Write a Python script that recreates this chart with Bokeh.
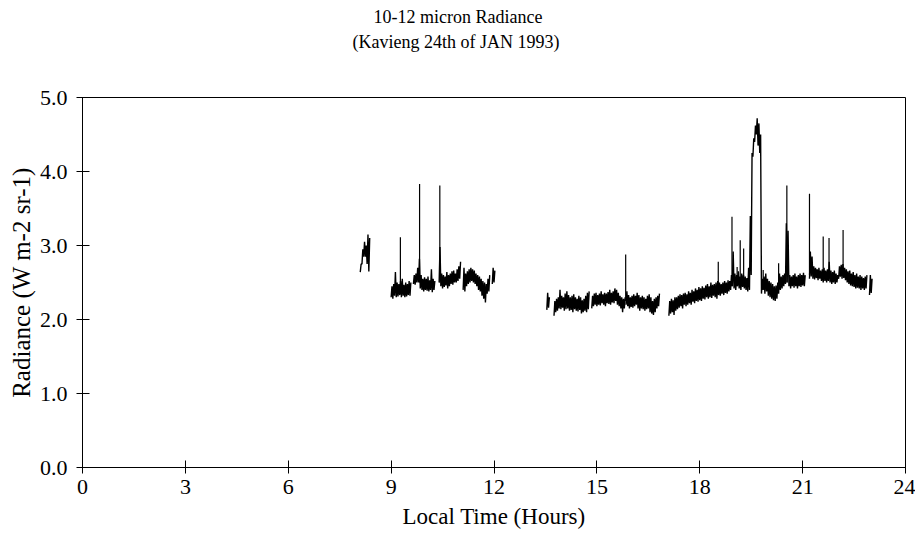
import numpy as np
from bokeh.plotting import figure
from bokeh.models import Title, FixedTicker, Range1d, CustomJSTickFormatter
from bokeh.embed import file_html
from bokeh.resources import INLINE

# ---------------- data ----------------
STEP = 0.05  # hours between envelope samples

# each segment: start hour, low envelope, high envelope (W m-2 sr-1)
seg_a_start = 8.10
seg_a_lo = [2.64, 2.75, 2.85, 2.85, 2.75, 2.65]
seg_a_hi = [2.75, 2.95, 3.05, 3.00, 3.15, 3.10]

seg_b_start = 9.00
seg_b_lo = [2.30, 2.28, 2.32, 2.30, 2.31, 2.33, 2.30, 2.32, 2.30, 2.31, 2.33, 2.32]
seg_b_hi = [2.45, 2.48, 2.64, 2.50, 2.48, 2.52, 2.55, 2.47, 2.50, 2.48, 2.52, 2.50]

seg_c_start = 9.65
seg_c_lo = [2.48, 2.47, 2.50, 2.50, 2.42, 2.40, 2.38, 2.40, 2.39, 2.38, 2.40, 2.37, 2.40]
seg_c_hi = [2.60, 2.62, 2.70, 2.82, 2.60, 2.55, 2.57, 2.55, 2.58, 2.53, 2.68, 2.55, 2.52]

seg_d_start = 10.40
seg_d_lo = [2.50, 2.45, 2.42, 2.44, 2.46, 2.42, 2.45, 2.48, 2.47, 2.50, 2.50, 2.52, 2.55]
seg_d_hi = [2.98, 2.62, 2.60, 2.58, 2.64, 2.60, 2.62, 2.65, 2.66, 2.62, 2.68, 2.72, 2.78]

seg_e_start = 11.10
seg_e_lo = [2.40, 2.38, 2.45, 2.48, 2.50, 2.52, 2.50, 2.48, 2.45, 2.40, 2.38, 2.32, 2.28, 2.23, 2.35, 2.38]
seg_e_hi = [2.70, 2.62, 2.65, 2.68, 2.70, 2.68, 2.66, 2.62, 2.60, 2.58, 2.55, 2.52, 2.50, 2.48, 2.55, 2.60]

seg_f_start = 11.95
seg_f_lo = [2.48, 2.50]
seg_f_hi = [2.70, 2.66]

seg_g_start = 13.54
seg_g_lo = [2.13, 2.16]
seg_g_hi = [2.36, 2.30]

seg_h_start = 13.75
seg_h_lo = [2.05, 2.10, 2.12, 2.15, 2.14, 2.16, 2.12, 2.14, 2.15, 2.12, 2.13,
            2.10, 2.14, 2.12, 2.11, 2.13, 2.08, 2.10, 2.12, 2.10, 2.14]
seg_h_hi = [2.25, 2.28, 2.30, 2.40, 2.32, 2.30, 2.35, 2.38, 2.33, 2.30, 2.32,
            2.34, 2.30, 2.28, 2.32, 2.30, 2.26, 2.28, 2.32, 2.36, 2.38]

seg_i_start = 14.85
seg_i_lo = [2.15, 2.18, 2.20, 2.18, 2.20, 2.19, 2.22, 2.20, 2.18, 2.22,
            2.21, 2.20, 2.23, 2.22, 2.25, 2.20, 2.18, 2.15, 2.10, 2.15]
seg_i_hi = [2.32, 2.35, 2.36, 2.33, 2.35, 2.38, 2.34, 2.36, 2.35, 2.37,
            2.40, 2.36, 2.38, 2.42, 2.40, 2.36, 2.32, 2.30, 2.28, 2.30]

seg_j_start = 15.85
seg_j_lo = [2.20, 2.18, 2.15, 2.17, 2.16, 2.18, 2.20, 2.15, 2.12, 2.15,
            2.14, 2.12, 2.14, 2.15, 2.10, 2.08, 2.06, 2.10, 2.15, 2.18]
seg_j_hi = [2.38, 2.33, 2.30, 2.32, 2.34, 2.32, 2.36, 2.33, 2.30, 2.32,
            2.30, 2.28, 2.32, 2.34, 2.30, 2.25, 2.28, 2.30, 2.32, 2.35]

seg_k_start = 17.10
seg_k_lo = [2.05, 2.08, 2.10, 2.06, 2.12, 2.14, 2.16, 2.18, 2.15, 2.20,
            2.18, 2.20, 2.22, 2.20, 2.24, 2.22, 2.25, 2.24, 2.26, 2.25,
            2.28, 2.27, 2.30, 2.28, 2.30, 2.29, 2.32, 2.30, 2.28, 2.33,
            2.32, 2.35, 2.33, 2.36, 2.35, 2.38, 2.40, 2.45, 2.42, 2.40,
            2.45, 2.42, 2.40, 2.44, 2.42, 2.40, 2.38, 2.40, 2.60, 4.20,
            4.40, 4.50, 4.35, 4.25, 2.35, 2.40, 2.35, 2.38, 2.32, 2.30,
            2.28, 2.26, 2.25, 2.28, 2.35, 2.40, 2.42, 2.45, 2.48, 2.50,
            2.45, 2.42, 2.45, 2.43, 2.45, 2.42, 2.45, 2.44, 2.46, 2.45]
seg_k_hi = [2.25, 2.28, 2.26, 2.30, 2.30, 2.32, 2.34, 2.33, 2.35, 2.36,
            2.34, 2.38, 2.36, 2.40, 2.38, 2.42, 2.40, 2.44, 2.42, 2.45,
            2.43, 2.46, 2.48, 2.45, 2.50, 2.47, 2.48, 2.50, 2.52, 2.50,
            2.48, 2.50, 2.52, 2.50, 2.53, 2.52, 2.60, 2.92, 2.62, 2.60,
            2.65, 2.58, 2.62, 2.60, 2.58, 2.56, 2.70, 3.40, 4.25, 4.45,
            4.62, 4.72, 4.65, 4.50, 2.55, 2.58, 2.62, 2.55, 2.52, 2.50,
            2.48, 2.45, 2.46, 2.50, 2.62, 2.58, 2.60, 2.62, 3.30, 3.20,
            2.60, 2.58, 2.60, 2.62, 2.58, 2.60, 2.62, 2.60, 2.63, 2.60]

seg_l_start = 21.20
seg_l_lo = [2.55, 2.58, 2.55, 2.54, 2.56, 2.53, 2.55, 2.52, 2.50, 2.52,
            2.50, 2.52, 2.50, 2.48, 2.50, 2.48, 2.50, 2.55, 2.58, 2.55,
            2.56, 2.53, 2.50, 2.48, 2.46, 2.45, 2.44, 2.42, 2.43, 2.42,
            2.40, 2.42, 2.40, 2.42]
seg_l_hi = [2.92, 2.85, 2.72, 2.70, 2.68, 2.70, 2.66, 2.68, 2.70, 2.66,
            2.68, 2.78, 2.66, 2.64, 2.66, 2.62, 2.60, 2.72, 2.74, 2.75,
            2.70, 2.68, 2.65, 2.66, 2.62, 2.64, 2.60, 2.62, 2.58, 2.60,
            2.58, 2.56, 2.58, 2.60]

seg_m_start = 22.95
seg_m_lo = [2.33, 2.36]
seg_m_hi = [2.60, 2.55]

# isolated spikes: hour, base level, peak level
spike_t = [9.27, 9.83, 10.42, 15.84, 18.54, 18.94, 19.09, 19.18, 19.28,
           19.85, 20.30, 20.54, 21.20, 21.60, 21.77, 22.18]
spike_base = [2.40, 2.50, 2.50, 2.25, 2.40, 2.45, 2.45, 2.45, 2.45,
              2.45, 2.45, 2.50, 2.60, 2.55, 2.55, 2.60]
spike_top = [3.11, 3.83, 3.81, 2.88, 2.78, 3.39, 2.71, 3.07, 2.96,
             2.67, 2.76, 3.81, 3.70, 3.12, 3.10, 3.21]

x_ticks = [0, 3, 6, 9, 12, 15, 18, 21, 24]
y_ticks = [0.0, 1.0, 2.0, 3.0, 4.0, 5.0]

title_line1 = "10-12 micron Radiance"
title_line2 = "(Kavieng 24th of JAN 1993)"

segments = [
    (seg_a_start, seg_a_lo, seg_a_hi), (seg_b_start, seg_b_lo, seg_b_hi),
    (seg_c_start, seg_c_lo, seg_c_hi), (seg_d_start, seg_d_lo, seg_d_hi),
    (seg_e_start, seg_e_lo, seg_e_hi), (seg_f_start, seg_f_lo, seg_f_hi),
    (seg_g_start, seg_g_lo, seg_g_hi), (seg_h_start, seg_h_lo, seg_h_hi),
    (seg_i_start, seg_i_lo, seg_i_hi), (seg_j_start, seg_j_lo, seg_j_hi),
    (seg_k_start, seg_k_lo, seg_k_hi), (seg_l_start, seg_l_lo, seg_l_hi),
    (seg_m_start, seg_m_lo, seg_m_hi),
]

# ---------------- build traces ----------------
xs, ys = [], []
for start, lo, hi in segments:
    x, y = [], []
    for i, (a, b) in enumerate(zip(lo, hi)):
        t = start + STEP * i
        x += [t, t + STEP / 2]
        y += [a, b]
    xs.append(x)
    ys.append(y)

FONT = "Liberation Serif"

p = figure(width=915, height=541, output_backend="svg", toolbar_location=None,
           x_range=Range1d(0, 24), y_range=Range1d(0, 5),
           min_border_left=82, min_border_right=10, min_border_top=97,
           min_border_bottom=74, background_fill_color="white",
           border_fill_color="white")
p.title.visible = False

p.multi_line(xs, ys, line_color="black", line_width=1.4)
p.segment(x0=spike_t, y0=spike_base, x1=spike_t, y1=spike_top,
          line_color="black", line_width=1.2)

p.xgrid.visible = False
p.ygrid.visible = False
p.outline_line_color = "black"
p.outline_line_width = 1

for ax in (p.xaxis[0], p.yaxis[0]):
    ax.axis_line_color = "black"
    ax.major_tick_line_color = "black"
    ax.minor_tick_line_color = None
    ax.major_tick_in = 7
    ax.major_tick_out = 6
    ax.major_label_text_font = FONT
    ax.major_label_text_font_size = "22px"
    ax.major_label_text_color = "black"
    ax.axis_label_text_font = FONT
    ax.axis_label_text_font_style = "normal"
    ax.axis_label_text_color = "black"

p.xaxis.ticker = FixedTicker(ticks=x_ticks)
p.yaxis.ticker = FixedTicker(ticks=y_ticks)
p.yaxis.formatter = CustomJSTickFormatter(code="return tick.toFixed(1);")
p.xaxis.formatter = CustomJSTickFormatter(code="return tick.toFixed(0);")
p.xaxis.axis_label = "Local Time (Hours)"
p.yaxis.axis_label = "Radiance (W m-2 sr-1)"
p.xaxis.axis_label_text_font_size = "23px"
p.yaxis.axis_label_text_font_size = "25px"
p.xaxis.major_label_standoff = 6
p.yaxis.major_label_standoff = 9
p.xaxis.axis_label_standoff = 7
p.yaxis.axis_label_standoff = 2

# title panels, stacked outward from the frame: spacer, second line, first line
spacer = Title(text=" ", align="left", text_font_size="1px", standoff=40)
t2 = Title(text=title_line2, align="left", offset=270,
           text_font=FONT, text_font_size="18px", text_font_style="normal",
           text_color="black", standoff=6)
t1 = Title(text=title_line1, align="left", offset=291,
           text_font=FONT, text_font_size="18px", text_font_style="normal",
           text_color="black", standoff=0)
p.add_layout(spacer, "above")
p.add_layout(t2, "above")
p.add_layout(t1, "above")

open("out.html", "w").write(file_html(p, INLINE))
